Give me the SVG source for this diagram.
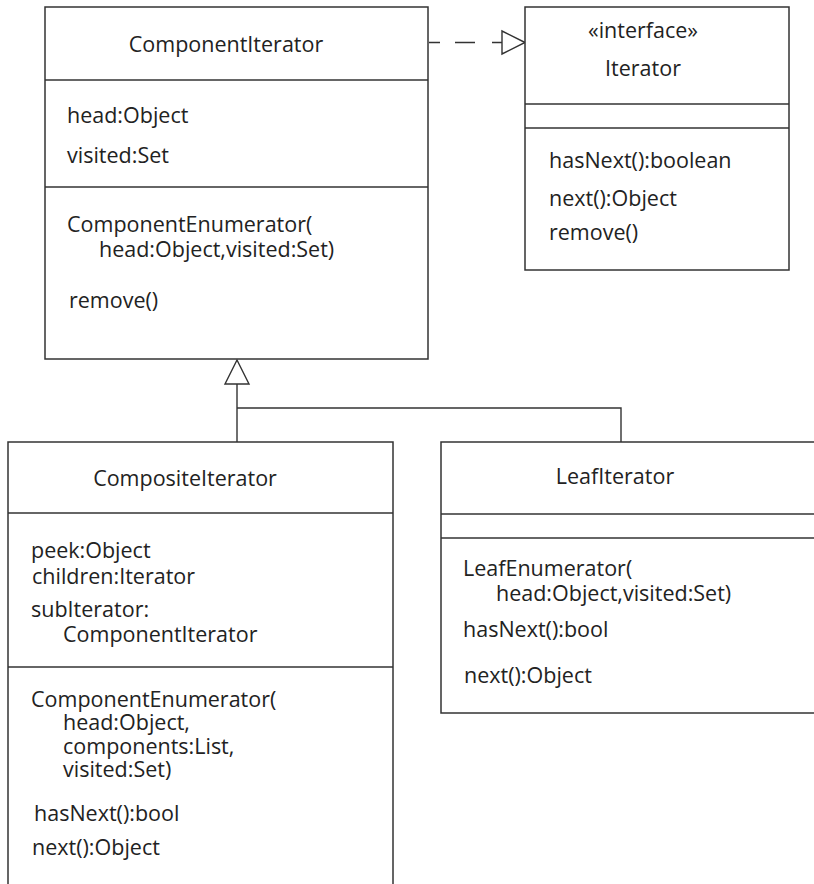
<svg xmlns="http://www.w3.org/2000/svg" width="814" height="884" viewBox="0 0 814 884">
<style>
.box{fill:#fff;stroke:#333;stroke-width:1.5}
.div{stroke:#333;stroke-width:1.5}
.conn{fill:none;stroke:#333;stroke-width:1.4}
.head{fill:#fff;stroke:#333;stroke-width:1.4}
text{font-family:"Open Sans","DejaVu Sans",sans-serif;font-size:21.5px;fill:#222}
.c{text-anchor:middle}
</style>
<rect width="814" height="884" fill="#fff"/>
<g id="connectors">
<path class="conn" d="M429 42.5H440M455 42.5H475M492 42.5H502"/>
<polygon class="head" points="525,42.5 502,31 502,54"/>
<path class="conn" d="M237 384V442M237 408H621V442"/>
<polygon class="head" points="237,360 225,384 249,384"/>
</g>
<g id="ComponentIterator">
<rect class="box" x="45" y="7" width="383" height="352"/>
<line class="div" x1="45" y1="80" x2="428" y2="80"/>
<line class="div" x1="45" y1="187" x2="428" y2="187"/>
<text class="c" x="226" y="52">ComponentIterator</text>
<text x="67" y="123">head:Object</text>
<text x="67" y="163">visited:Set</text>
<text x="67" y="232">ComponentEnumerator(</text>
<text x="99" y="257">head:Object,visited:Set)</text>
<text x="69" y="308">remove()</text>
</g>
<g id="Iterator">
<rect class="box" x="525" y="7" width="264" height="263"/>
<line class="div" x1="525" y1="104" x2="789" y2="104"/>
<line class="div" x1="525" y1="128" x2="789" y2="128"/>
<text class="c" x="643" y="38">«interface»</text>
<text class="c" x="643" y="76">Iterator</text>
<text x="549" y="168">hasNext():boolean</text>
<text x="549" y="206">next():Object</text>
<text x="549" y="240">remove()</text>
</g>
<g id="CompositeIterator">
<rect class="box" x="8" y="442" width="385" height="460"/>
<line class="div" x1="8" y1="513" x2="393" y2="513"/>
<line class="div" x1="8" y1="667" x2="393" y2="667"/>
<text class="c" x="185" y="486">CompositeIterator</text>
<text x="31" y="558">peek:Object</text>
<text x="32" y="584">children:Iterator</text>
<text x="31" y="617">subIterator:</text>
<text x="63" y="642">ComponentIterator</text>
<text x="31" y="707">ComponentEnumerator(</text>
<text x="63" y="730">head:Object,</text>
<text x="63" y="754">components:List,</text>
<text x="63" y="777">visited:Set)</text>
<text x="34" y="821">hasNext():bool</text>
<text x="32" y="855">next():Object</text>
</g>
<g id="LeafIterator">
<rect class="box" x="441" y="442" width="390" height="271"/>
<line class="div" x1="441" y1="514" x2="831" y2="514"/>
<line class="div" x1="441" y1="538" x2="831" y2="538"/>
<text class="c" x="615" y="484">LeafIterator</text>
<text x="463" y="576">LeafEnumerator(</text>
<text x="496" y="601">head:Object,visited:Set)</text>
<text x="463" y="637">hasNext():bool</text>
<text x="464" y="683">next():Object</text>
</g>
</svg>
